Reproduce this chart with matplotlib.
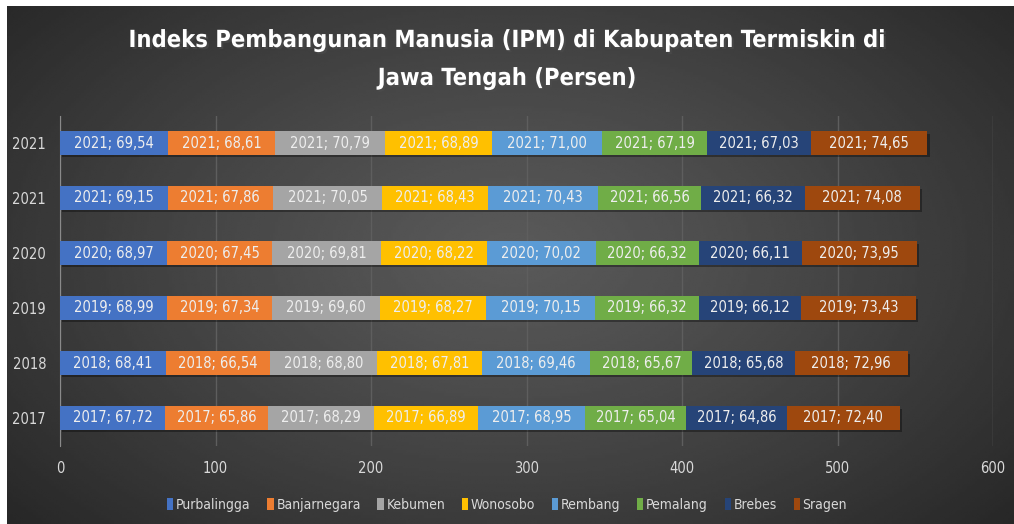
import numpy as np
import matplotlib.pyplot as plt
import matplotlib.patheffects as pe

plt.rcParams['font.family'] = ['DejaVu Sans']
plt.rcParams['font.stretch'] = 'condensed'

# --- data ---
rows = ['2017', '2018', '2019', '2020', '2021', '2021']
regions = ['Purbalingga', 'Banjarnegara', 'Kebumen', 'Wonosobo',
           'Rembang', 'Pemalang', 'Brebes', 'Sragen']
colors = ['#4472C4', '#ED7D31', '#A5A5A5', '#FFC000',
          '#5B9BD5', '#70AD47', '#264478', '#9E480E']

# values per region, rows bottom to top (2017 ... 2021, 2021)
purbalingga = [67.72, 68.41, 68.99, 68.97, 69.15, 69.54]
banjarnegara = [65.86, 66.54, 67.34, 67.45, 67.86, 68.61]
kebumen = [68.29, 68.80, 69.60, 69.81, 70.05, 70.79]
wonosobo = [66.89, 67.81, 68.27, 68.22, 68.43, 68.89]
rembang = [68.95, 69.46, 70.15, 70.02, 70.43, 71.00]
pemalang = [65.04, 65.67, 66.32, 66.32, 66.56, 67.19]
brebes = [64.86, 65.68, 66.12, 66.11, 66.32, 67.03]
sragen = [72.40, 72.96, 73.43, 73.95, 74.08, 74.65]
series = [purbalingga, banjarnegara, kebumen, wonosobo,
          rembang, pemalang, brebes, sragen]

W, H = 1014, 524
fig = plt.figure(figsize=(W / 100, H / 100), dpi=100)
fig.patch.set_facecolor('white')

# background with radial gradient
bg = fig.add_axes([7 / W, 0, 1 - 7 / W, 1 - 6 / H])
bg.set_axis_off()
yy, xx = np.mgrid[0:200, 0:400]
cx, cy = 200, 95
d = np.sqrt(((xx - cx) / 270.0) ** 2 + ((yy - cy) / 160.0) ** 2)
d = np.clip(d, 0, 1)
inner, outer = 0.35, 0.15
img = inner + (outer - inner) * d ** 1.2
bg.imshow(img, cmap='gray', vmin=0, vmax=1, aspect='auto',
          extent=[0, 1, 0, 1], interpolation='bilinear')

ax = fig.add_axes([60 / W, 78.5 / H, 933 / W, 330 / H])
ax.patch.set_alpha(0)

y = np.arange(len(rows))
left = np.zeros(len(rows))
for name, vals, c in zip(regions, series, colors):
    vals = np.array(vals)
    # soft shadow
    ax.barh(y - 0.05, vals, left=left + 1.5, height=0.42, color='black',
            alpha=0.35, zorder=2)
    ax.barh(y, vals, left=left, height=0.42, color=c, label=name, zorder=3)
    for yi, (l, v, yr) in enumerate(zip(left, vals, rows)):
        txt = f'{yr}; {v:.2f}'.replace('.', ',')
        ax.text(l + v / 2, yi, txt, ha='center', va='center',
                color='#eeeeee', fontsize=10.5, zorder=4)
    left = left + vals

ax.set_xlim(0, 600)
ax.set_ylim(-0.5, len(rows) - 0.5)
ax.set_xticks(range(0, 601, 100))
ax.set_yticks(y)
ax.set_yticklabels(rows)
ax.tick_params(axis='both', colors='#d9d9d9', labelsize=10.5, length=0)
ax.tick_params(axis='x', pad=11)
ax.tick_params(axis='y', pad=10)
ax.xaxis.grid(True, color='#5e5e5e', linewidth=1, zorder=0)
ax.set_axisbelow(True)
for s in ['top', 'right', 'bottom']:
    ax.spines[s].set_visible(False)
ax.spines['left'].set_color('#8a8a8a')

shadow = [pe.withSimplePatchShadow(offset=(1.5, -1.5), alpha=0.6)]
fig.text(0.5, 1 - 40 / H, 'Indeks Pembangunan Manusia (IPM) di Kabupaten Termiskin di',
         ha='center', va='center', color='white', fontsize=17, fontweight='bold',
         path_effects=shadow)
fig.text(0.5, 1 - 78 / H, 'Jawa Tengah (Persen)',
         ha='center', va='center', color='white', fontsize=17, fontweight='bold',
         path_effects=shadow)

leg = fig.legend(loc='center', bbox_to_anchor=(0.5, 1 - 505 / H), ncol=8,
                 frameon=False, fontsize=10, handlelength=0.45,
                 handleheight=0.9, handletextpad=0.2, columnspacing=1.2)
for t in leg.get_texts():
    t.set_color('#d9d9d9')

fig.savefig('out.png', dpi=100)
